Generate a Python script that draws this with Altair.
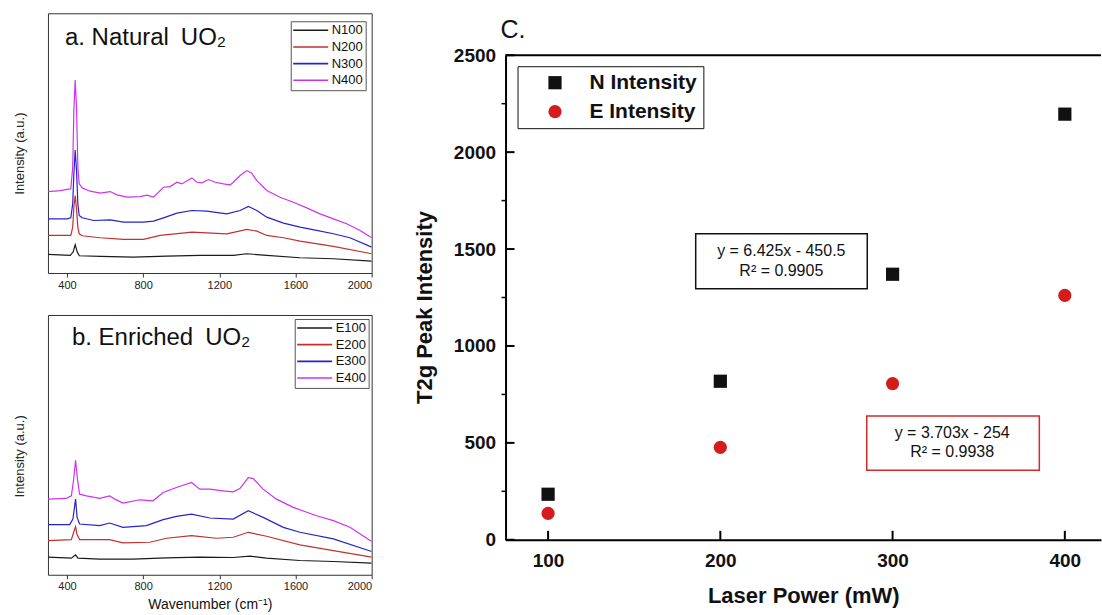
import altair as alt
import pandas as pd

FONT = "Liberation Sans"

# ---------------- Panel a: Natural UO2 Raman spectra (intensity, a.u.) ----------------
n100_wn = [300, 417, 432, 443, 454, 465, 575, 750, 924, 1099, 1274, 1344, 1449, 1624, 1799, 2000]
n100_int = [56, 53, 63, 85, 63, 52, 50, 48, 51, 53, 53, 58, 53, 46, 43, 36]

n200_wn = [300, 408, 420, 430, 436, 443, 450, 457, 464, 480, 575, 697, 802, 889, 1056, 1134,
           1239, 1344, 1397, 1449, 1537, 1624, 1799, 2000]
n200_int = [113, 113, 113, 138, 198, 233, 193, 138, 118, 112, 106, 101, 101, 113, 123, 121,
            118, 131, 126, 113, 106, 96, 80, 58]

n300_wn = [300, 400, 420, 430, 436, 443, 450, 457, 464, 480, 540, 627, 697, 802, 854, 907,
           977, 1056, 1134, 1239, 1309, 1353, 1397, 1449, 1537, 1624, 1711, 1799, 1886, 2000]
n300_int = [163, 163, 166, 208, 298, 370, 308, 208, 173, 166, 158, 160, 153, 153, 156, 166,
            180, 188, 186, 178, 188, 200, 188, 168, 150, 138, 128, 118, 106, 78]

n400_wn = [300, 365, 408, 420, 430, 436, 443, 450, 457, 464, 480, 522, 575, 627, 662, 715,
           785, 820, 854, 907, 942, 977, 1003, 1056, 1082, 1108, 1143, 1178, 1222, 1257, 1274,
           1309, 1344, 1370, 1397, 1449, 1519, 1589, 1659, 1729, 1799, 1869, 1939, 2000]
n400_int = [245, 248, 252, 253, 318, 488, 580, 498, 318, 268, 256, 246, 240, 245, 235, 228,
            230, 234, 228, 258, 260, 273, 268, 286, 273, 271, 281, 273, 268, 265, 273,
            293, 308, 300, 278, 248, 228, 213, 196, 178, 163, 148, 128, 106]

# ---------------- Panel b: Enriched UO2 Raman spectra (intensity, a.u.) ----------------
e100_wn = [300, 423, 445, 458, 572, 747, 922, 1097, 1273, 1360, 1448, 1623, 1799, 2000]
e100_int = [53, 50, 60, 50, 47, 47, 51, 53, 52, 56, 50, 43, 40, 35]

e200_wn = [300, 423, 435, 445, 452, 466, 624, 694, 835, 922, 1054, 1185, 1273, 1352, 1448,
           1623, 1799, 2000]
e200_int = [103, 106, 128, 145, 123, 106, 106, 96, 98, 110, 118, 110, 113, 128, 116,
            90, 73, 53]

e300_wn = [300, 414, 431, 445, 453, 466, 572, 624, 694, 817, 905, 975, 1054, 1150, 1273,
           1352, 1430, 1536, 1623, 1799, 2000]
e300_int = [151, 151, 168, 228, 173, 153, 148, 156, 143, 148, 166, 176, 183, 171, 168,
            193, 173, 143, 128, 108, 70]

e400_wn = [300, 396, 423, 435, 445, 455, 466, 502, 572, 624, 651, 694, 782, 852, 905, 975,
           1054, 1097, 1150, 1220, 1273, 1308, 1352, 1378, 1430, 1500, 1588, 1711, 1799, 1886, 2000]
e400_int = [228, 230, 238, 288, 345, 288, 243, 238, 230, 238, 228, 216, 226, 223, 248, 263,
            278, 258, 258, 253, 250, 260, 293, 290, 258, 228, 203, 178, 163, 143, 100]

n_names = ["N100", "N200", "N300", "N400"]
e_names = ["E100", "E200", "E300", "E400"]
spec_colors = ["#1a1a1a", "#c43030", "#2424cc", "#cc33ee"]
wn_ticks = [400, 800, 1200, 1600, 2000]

# ---------------- Panel c: T2g peak intensity vs laser power ----------------
laser_power = [100, 200, 300, 400]
n_intensity = [235, 818, 1370, 2196]
e_intensity = [136, 477, 806, 1261]
c_series = ["N Intensity", "E Intensity"]
c_x_ticks = [100, 200, 300, 400]
c_y_ticks = [0, 500, 1000, 1500, 2000, 2500]
c_y_minor = [250, 750, 1250, 1750, 2250]

fit_n_text = ["y = 6.425x - 450.5", "R\u00b2 = 0.9905"]
fit_e_text = ["y = 3.703x - 254", "R\u00b2 = 0.9938"]


def long_df(names, wns, ints):
    rows = []
    for nm, w, v in zip(names, wns, ints):
        for a, b in zip(w, v):
            rows.append({"series": nm, "wn": a, "val": b})
    return pd.DataFrame(rows)


df_a = long_df(n_names, [n100_wn, n200_wn, n300_wn, n400_wn],
               [n100_int, n200_int, n300_int, n400_int])
df_b = long_df(e_names, [e100_wn, e200_wn, e300_wn, e400_wn],
               [e100_int, e200_int, e300_int, e400_int])

PW, PH = 324, 260


def spectra_panel(df, names, y_max, label, label_dx, label_dy, lg_x, lg_y, y_title_y, x_title):
    x_axis = alt.Axis(values=wn_ticks, format="d", grid=False, domain=False, tickSize=4,
                      tickColor="#333", labelFontSize=11, labelColor="#222", labelPadding=2,
                      labelFont=FONT,
                      title=x_title if x_title else None, titleFontSize=14,
                      titleFontWeight="normal", titleFont=FONT, titleColor="#111", titlePadding=6)
    lines = alt.Chart(df).mark_line(strokeWidth=1.2, clip=True).encode(
        x=alt.X("wn:Q", scale=alt.Scale(domain=[300, 2000], nice=False, zero=False), axis=x_axis),
        y=alt.Y("val:Q", scale=alt.Scale(domain=[0, y_max], nice=False),
                axis=alt.Axis(labels=False, ticks=False, domain=False, grid=False,
                              title="Intensity (a.u.)", titleFontSize=13, titleFontWeight="normal",
                              titleFont=FONT, titleColor="#222", titleX=-28.5, titleY=y_title_y,
                              titleAngle=270, titleAlign="center", titleBaseline="middle")),
        color=alt.Color("series:N", scale=alt.Scale(domain=names, range=spec_colors),
                        legend=alt.Legend(title=None, orient="none", legendX=lg_x, legendY=lg_y,
                                          symbolType="M-3,0H3", symbolSize=136,
                                          symbolStrokeWidth=1.6, symbolOffset=11,
                                          labelOffset=14, labelFontSize=13, labelFont=FONT,
                                          labelColor="#111", padding=2, rowPadding=2.7,
                                          strokeColor="#555")),
        order=alt.Order("wn:Q"),
    )
    txt = alt.Chart(pd.DataFrame({"t": [label]})).mark_text(
        align="left", baseline="alphabetic", fontSize=24, font=FONT, color="#111"
    ).encode(text="t:N", x=alt.value(label_dx), y=alt.value(label_dy))
    return alt.layer(lines, txt).properties(
        width=PW, height=PH, view=alt.ViewBackground(stroke="#333", strokeWidth=1)
    )


panel_a = spectra_panel(df_a, n_names, 781, "a. Natural\u2002UO\u2082", 17, 32, 243, 8, 140, None)
panel_b = spectra_panel(df_b, e_names, 783, "b. Enriched\u2002UO\u2082", 24, 30, 247, 4, 141,
                        "Wavenumber (cm\u207b\u00b9)")

# ---------------- panel c ----------------
CW, CH = 596, 485
df_c = pd.DataFrame({
    "power": laser_power * 2,
    "val": n_intensity + e_intensity,
    "series": [c_series[0]] * 4 + [c_series[1]] * 4,
})
xs = alt.Scale(domain=[75.3, 421], nice=False, zero=False)
ys = alt.Scale(domain=[0, 2500], nice=False)

c_legend = alt.Legend(title=None, orient="none", legendX=12, legendY=11,
                      labelFontSize=21, labelFontWeight="bold", labelFont=FONT,
                      labelColor="#111", symbolSize=175, symbolOffset=21,
                      labelOffset=24, padding=6, rowPadding=7, strokeColor="#111",
                      symbolStrokeWidth=0)

pts = alt.Chart(df_c).mark_point(filled=True, opacity=1, size=175).encode(
    x=alt.X("power:Q", scale=xs,
            axis=alt.Axis(values=c_x_ticks, format="d", ticks=False, grid=False, domainWidth=2,
                          domainColor="black", labelFontSize=19, labelFontWeight="bold",
                          labelFont=FONT, labelColor="#111", labelPadding=12,
                          title="Laser Power (mW)", titleFontSize=22, titleFontWeight="bold",
                          titleFont=FONT, titleColor="#111", titlePadding=15)),
    y=alt.Y("val:Q", scale=ys,
            axis=alt.Axis(values=c_y_ticks, format="d", ticks=False, grid=False, domainWidth=2,
                          domainColor="black", labelFontSize=19, labelFontWeight="bold",
                          labelFont=FONT, labelColor="#111", labelPadding=10,
                          title="T2g Peak Intensity", titleFontSize=22, titleFontWeight="bold",
                          titleFont=FONT, titleColor="#111", titleX=-81, titleY=252,
                          titleAngle=270, titleAlign="center", titleBaseline="middle")),
    shape=alt.Shape("series:N", scale=alt.Scale(domain=c_series, range=["square", "circle"]),
                    legend=c_legend),
    color=alt.Color("series:N", scale=alt.Scale(domain=c_series, range=["#111111", "#d41c1c"]),
                    legend=c_legend),
)

yt = alt.Chart(pd.DataFrame({"v": c_y_ticks})).mark_rule(color="black", strokeWidth=2).encode(
    y=alt.Y("v:Q", scale=ys), x=alt.value(0), x2=alt.value(9))
ym = alt.Chart(pd.DataFrame({"v": c_y_minor})).mark_rule(color="black", strokeWidth=1.5).encode(
    y=alt.Y("v:Q", scale=ys), x=alt.value(-4), x2=alt.value(0))
xt = alt.Chart(pd.DataFrame({"p": c_x_ticks})).mark_rule(color="black", strokeWidth=2).encode(
    x=alt.X("p:Q", scale=xs), y=alt.value(CH), y2=alt.value(CH - 9))
top_border = alt.Chart(pd.DataFrame({"k": [0]})).mark_rule(color="black", strokeWidth=2).encode(
    x=alt.value(0), x2=alt.value(CW), y=alt.value(0))

box_df = pd.DataFrame({
    "x1": [185.7, 285.0], "x2": [285.3, 385.2],
    "y1": [1295, 359], "y2": [1579, 639],
    "col": ["black", "red"],
})
boxes = alt.Chart(box_df).mark_rect(fill="white", strokeWidth=1.5).encode(
    x=alt.X("x1:Q", scale=xs), x2="x2:Q", y=alt.Y("y1:Q", scale=ys), y2="y2:Q",
    stroke=alt.Stroke("col:N", scale=alt.Scale(domain=["black", "red"],
                                               range=["#111111", "#d42a2a"]), legend=None),
)
eq_df = pd.DataFrame({
    "t": fit_n_text + fit_e_text,
    "x": [235.4, 235.4, 334.6, 334.6],
    "y": [1490, 1387, 553, 455],
})
eqs = alt.Chart(eq_df).mark_text(fontSize=16, font=FONT, color="#111", baseline="middle").encode(
    x=alt.X("x:Q", scale=xs), y=alt.Y("y:Q", scale=ys), text="t:N")

c_label = alt.Chart(pd.DataFrame({"t": ["C."]})).mark_text(
    align="left", baseline="alphabetic", fontSize=25, font=FONT, color="#111"
).encode(text="t:N", x=alt.value(-5), y=alt.value(-17))

panel_c = alt.layer(boxes, eqs, yt, ym, xt, top_border, pts, c_label).properties(
    width=CW, height=CH, view=alt.ViewBackground(stroke=None),
)

spacer = alt.Chart(pd.DataFrame({"k": [0]})).mark_rule(strokeOpacity=0).encode(
    x=alt.value(0), x2=alt.value(1), y=alt.value(0)
).properties(width=1, height=1, view=alt.ViewBackground(stroke=None))

left = alt.vconcat(panel_a, panel_b, spacing=42, bounds="flush").resolve_scale(color="independent")
right = alt.vconcat(spacer, panel_c, spacing=4).resolve_scale(
    color="independent", shape="independent")
chart = alt.hconcat(left, right, spacing=41).resolve_scale(
    color="independent", shape="independent"
).properties(
    padding={"left": 13, "top": 12, "right": 0, "bottom": 0}, background="white"
).configure(font=FONT)

chart.save("out.html", embed_options={"renderer": "svg", "actions": False})
